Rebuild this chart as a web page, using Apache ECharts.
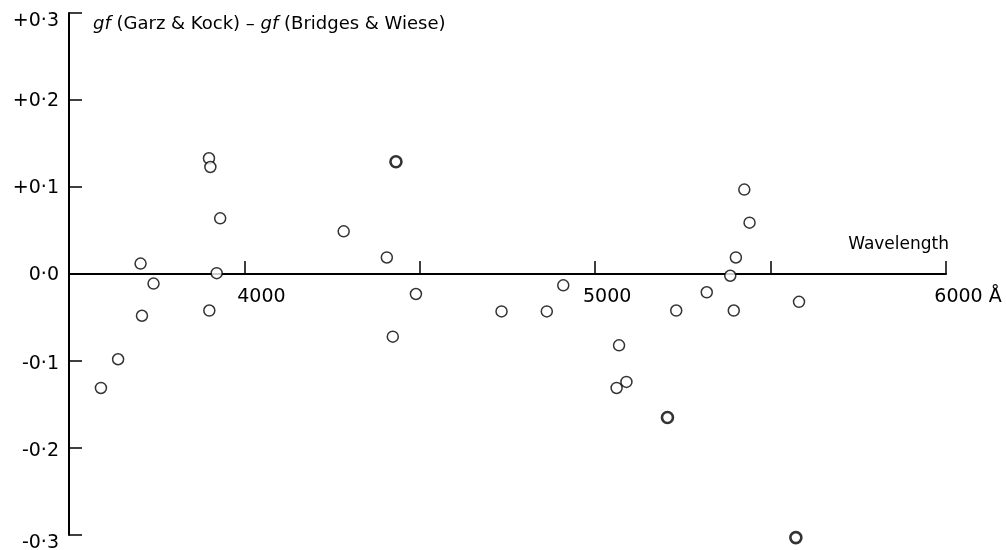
<!DOCTYPE html>
<html>
<head>
<meta charset="utf-8">
<script src="https://cdn.jsdelivr.net/npm/echarts@6/dist/echarts.min.js"></script>
<style>
html,body{margin:0;padding:0;background:#fff;}
#chart{width:1006px;height:550px;}
</style>
</head>
<body>
<div id="chart"></div>
<script>
// Wavelength (Å) of single points
var wavelengths = [3591, 3640, 3704, 3708, 3741, 3899, 3903, 3931, 3900, 3921,
  4283, 4406, 4423, 4489, 4733, 4862, 4909, 5061, 5068, 5089,
  5231, 5318, 5385, 5401, 5395, 5425, 5440, 5581];
// gf difference for single points
var diffs = [-0.131, -0.098, 0.012, -0.048, -0.011, 0.133, 0.123, 0.064, -0.042, 0.001,
  0.049, 0.019, -0.072, -0.023, -0.043, -0.043, -0.013, -0.131, -0.082, -0.124,
  -0.042, -0.021, -0.002, 0.019, -0.042, 0.097, 0.059, -0.032];
// Points drawn with a heavier (double) circle
var heavyWavelengths = [4432, 5206, 5572];
var heavyDiffs = [0.129, -0.165, -0.303];

var yTickLabels = {'0.3':'{t|+0·3}','0.2':'{m|+0·2}','0.1':'{m|+0·1}','0':'{m|0·0}','-0.1':'{n|-0·1}','-0.2':'{n|-0·2}','-0.3':'{t|-0·3}'};
var xTickLabels = {4000:'{a|4000}', 5000:'{b|5000}', 6000:'{c|6000 Å}'};

function pairs(xs, ys){ return xs.map(function(x,i){return [x, ys[i]];}); }

var FONT = 'DejaVu Sans';
var INK = '#000';
var chart = echarts.init(document.getElementById('chart'));
chart.setOption({
  backgroundColor: '#fff',
  animation: false,
  textStyle: {fontFamily: FONT, color: INK},
  title: {
    text: '{i|gf} (Garz & Kock) – {i|gf} (Bridges & Wiese)',
    left: 88, top: 10,
    textStyle: {
      fontFamily: FONT, fontSize: 18, fontWeight: 'normal', color: INK,
      rich: {i: {fontFamily: FONT, fontSize: 18, fontStyle: 'italic', color: INK}}
    }
  },
  grid: {left: 69, right: 60, top: 13, bottom: 15, containLabel: false, outerBoundsMode: 'none'},
  xAxis: {
    type: 'value', min: 3500, max: 6000, interval: 500,
    position: 'bottom', offset: -261,
    name: 'Wavelength', nameLocation: 'end', nameGap: 3,
    nameTextStyle: {fontFamily: FONT, fontSize: 17, color: INK, align: 'right', verticalAlign: 'bottom', padding: [0, 0, 21, 0]},
    axisLine: {onZero: false, lineStyle: {color: INK, width: 2}},
    axisTick: {show: true, inside: true, length: 13, lineStyle: {color: INK, width: 1.5}},
    splitLine: {show: false},
    axisLabel: {
      margin: 14, fontFamily: FONT, fontSize: 19, color: INK,
      showMinLabel: true, showMaxLabel: true,
      formatter: function(v){ return xTickLabels[v] || ''; },
      rich: {
        a: {fontFamily: FONT, fontSize: 19, color: INK, padding: [0, 0, 0, 34]},
        b: {fontFamily: FONT, fontSize: 19, color: INK, padding: [0, 0, 0, 24]},
        c: {fontFamily: FONT, fontSize: 19, color: INK, padding: [0, 0, 0, 44]}
      }
    }
  },
  yAxis: {
    type: 'value', min: -0.3, max: 0.3, interval: 0.1,
    axisLine: {show: true, onZero: false, lineStyle: {color: INK, width: 2}},
    axisTick: {show: true, inside: true, length: 13, lineStyle: {color: INK, width: 1.5}},
    splitLine: {show: false},
    axisLabel: {
      margin: 10, fontFamily: FONT, fontSize: 19, color: INK,
      showMinLabel: true, showMaxLabel: true,
      formatter: function(v){ var k = String(Math.round(v*10)/10); return yTickLabels[k] || ''; },
      rich: {
        t: {fontFamily: FONT, fontSize: 19, color: INK, padding: [16, 0, 0, 0]},
        m: {fontFamily: FONT, fontSize: 19, color: INK, padding: [2, 0, 0, 0]},
        n: {fontFamily: FONT, fontSize: 19, color: INK, padding: [6, 0, 0, 0]}
      }
    }
  },
  series: [
    {
      type: 'scatter', data: pairs(wavelengths, diffs), clip: false,
      symbol: 'circle', symbolSize: 11,
      itemStyle: {color: '#fff', borderColor: INK, borderWidth: 1.5}
    },
    {
      type: 'scatter', data: pairs(heavyWavelengths, heavyDiffs), clip: false,
      symbol: 'circle', symbolSize: 11,
      itemStyle: {color: '#fff', borderColor: INK, borderWidth: 2.6}
    }
  ]
});
</script>
</body>
</html>
